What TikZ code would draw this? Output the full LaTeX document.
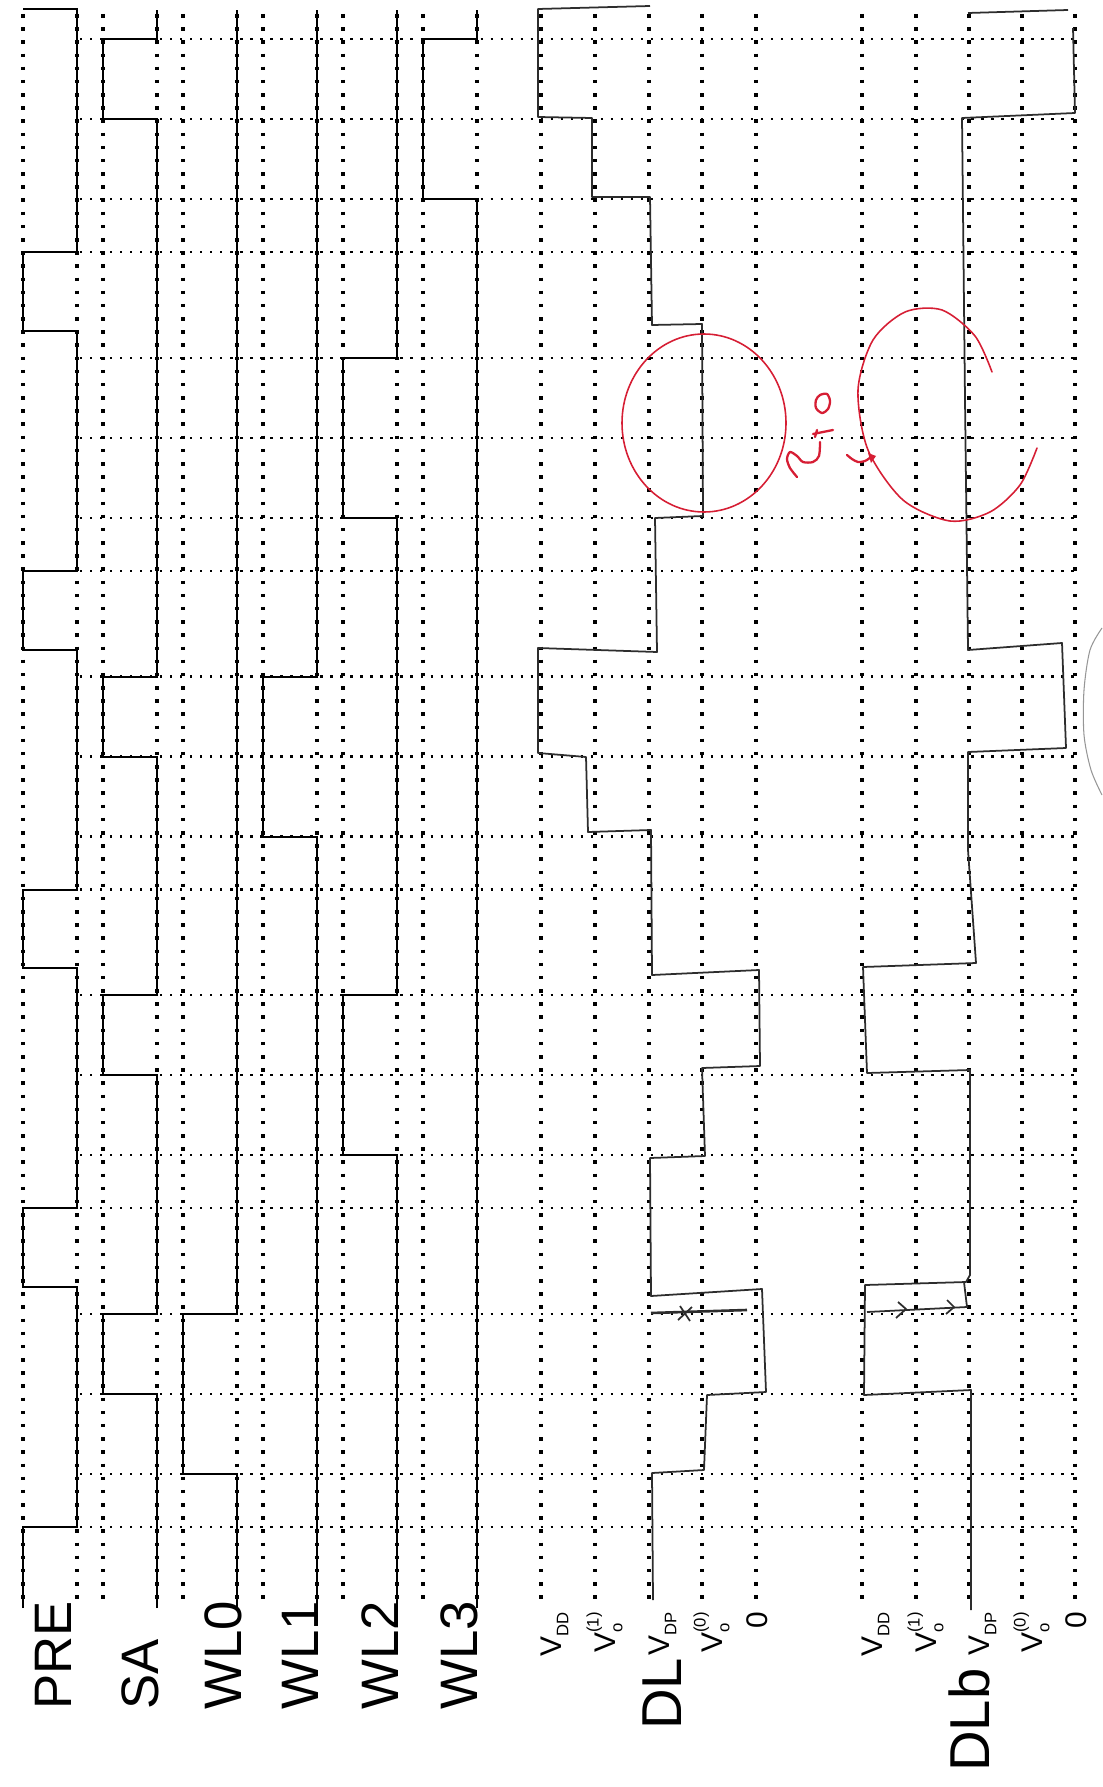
\documentclass[tikz,border=0pt]{standalone}
\usepackage{fontspec}
\setmainfont{Liberation Sans}
\usetikzlibrary{positioning}
\definecolor{lapiz}{RGB}{45,45,45}
\definecolor{rojo}{RGB}{214,30,52}
\definecolor{grafito}{RGB}{150,150,150}
\newcommand{\vsub}[1]{\raisebox{-0.25em}{\fontsize{9.5}{10}\selectfont #1}}
\newcommand{\vsup}[1]{\raisebox{0.55em}{\fontsize{9.5}{10}\selectfont #1}}

\begin{document}
\begin{tikzpicture}[x=0.02cm, y=-0.02cm,
    nivel/.style={line width=2pt, dash pattern=on 2pt off 5.5pt},
    tiempo/.style={line width=1.3pt, dash pattern=on 1.3pt off 4.4pt},
    senal/.style={line width=1.6pt, line join=miter},
    trazo/.style={line width=1pt, lapiz, line join=round},
    nombre/.style={rotate=90, inner sep=0pt, anchor=base west, font=\fontsize{30}{32}\selectfont},
    bus/.style={rotate=90, inner sep=0pt, anchor=base west, font=\fontsize{32}{34}\selectfont},
    voltaje/.style={rotate=90, inner sep=0pt, anchor=base east, font=\fontsize{17}{18}\selectfont},
    tinta/.style={rojo, line width=0.9pt, line cap=round, line join=round}]
    \useasboundingbox (0,0) rectangle (1102,1787);

    % Rejilla de tiempo
    \foreach \c in {0,...,4}
        \foreach \d in {0,53,133,213}
            \draw[tiempo] (80,{1527-318.75*\c-\d}) -- (1077,{1527-318.75*\c-\d});

    % Niveles de cada senal
    \foreach \x in {23,77,103,157,183,237,263,317,343,397,423,477,541,595,649,702,756,862,916,969,1022,1075}
        \draw[nivel] (\x,14) -- (\x,1606);

    % Etiquetas
    \node[nombre] (pre) at (71,1710) {PRE};
    \node[nombre] (sa) at (158,1710) {SA};
    \node[nombre] (wl0) at (241,1710) {WL0};
    \node[nombre] (wl1) at (318,1710) {WL1};
    \node[nombre] (wl2) at (398,1710) {WL2};
    \node[nombre] (wl3) at (477,1710) {WL3};
    \node[bus] (dl) at (681,1730) {DL};
    \node[bus] (dlb) at (989,1772) {DLb};

    \node[voltaje] (vdd) at (561,1612) {V\vsub{DD}};
    \node[voltaje] (vo1) at (615,1612) {V\rlap{\vsub{o}}\vsup{(1)}};
    \node[voltaje] (vdp) at (669,1612) {V\vsub{DP}};
    \node[voltaje] (vo0) at (722,1612) {V\rlap{\vsub{o}}\vsup{(0)}};
    \node[voltaje] (cero) at (767,1612) {0};
    \node[voltaje] (vddb) at (882,1612) {V\vsub{DD}};
    \node[voltaje] (vo1b) at (936,1612) {V\rlap{\vsub{o}}\vsup{(1)}};
    \node[voltaje] (vdpb) at (989,1612) {V\vsub{DP}};
    \node[voltaje] (vo0b) at (1042,1612) {V\rlap{\vsub{o}}\vsup{(0)}};
    \node[voltaje] (cerob) at (1086,1612) {0};

    % Senales digitales
    \draw[senal] (23,1608) -- (23,1527) -- (77,1527) -- (77,1287) -- (23,1287) -- (23,1208) -- (77,1208)
        -- (77,968) -- (23,968) -- (23,890) -- (77,890) -- (77,650) -- (23,650) -- (23,571) -- (77,571)
        -- (77,331) -- (23,331) -- (23,252) -- (77,252) -- (77,9) -- (23,9);
    \draw[senal] (157,1608) -- (157,1394) -- (103,1394) -- (103,1314) -- (157,1314) -- (157,1075)
        -- (103,1075) -- (103,995) -- (157,995) -- (157,757) -- (103,757) -- (103,677) -- (157,677)
        -- (157,119) -- (103,119) -- (103,39) -- (157,39) -- (157,10);
    \draw[senal] (237,1608) -- (237,1474) -- (183,1474) -- (183,1314) -- (237,1314) -- (237,10);
    \draw[senal] (317,1608) -- (317,837) -- (263,837) -- (263,677) -- (317,677) -- (317,10);
    \draw[senal] (397,1608) -- (397,1155) -- (343,1155) -- (343,995) -- (397,995) -- (397,518)
        -- (343,518) -- (343,358) -- (397,358) -- (397,10);
    \draw[senal] (477,1608) -- (477,199) -- (423,199) -- (423,39) -- (477,39) -- (477,10);

    % DL a mano
    \draw[trazo] (653,1600) -- (652,1473) -- (704,1470) -- (707,1395) -- (766,1392) -- (762,1289)
        -- (651,1296) -- (650,1158) -- (705,1156) -- (702,1068) -- (760,1066) -- (759,970)
        -- (652,975) -- (651,830) -- (588,832) -- (586,757) -- (538,753) -- (538,648) -- (657,652)
        -- (655,518) -- (703,516) -- (702,324) -- (652,325) -- (650,197) -- (592,197) -- (592,118)
        -- (538,117) -- (538,9) -- (650,6);
    \draw[trazo, line width=1.5pt] (651,1313) -- (747,1310);
    \draw[trazo] (678,1320) -- (692,1307) (680,1306) -- (690,1321);

    % DLb a mano
    \draw[trazo] (971,1610) -- (971,1390) -- (864,1395) -- (865,1285) -- (966,1282) -- (970,1275)
        -- (970,1070) -- (867,1073) -- (863,967) -- (976,963) -- (968,850) -- (968,752) -- (1066,748)
        -- (1062,643) -- (968,650) -- (965,400) -- (962,118) -- (1075,113) -- (1073,28);
    \draw[trazo] (968,13) -- (1068,10);
    \draw[trazo] (867,1312) -- (967,1307) -- (964,1282);
    \draw[trazo] (896,1318) -- (906,1309) -- (898,1302) (946,1314) -- (954,1307) -- (947,1300);

    % Correccion en rojo
    \draw[tinta] (704,423) ellipse[x radius=82, y radius=89];
    \draw[tinta] plot[smooth] coordinates {(992,372) (975,336) (942,310) (905,312)
        (873,340) (858,390) (868,450) (903,500) (950,521) (990,512) (1020,485) (1037,448)};
    \draw[tinta, line width=1.3pt] plot[smooth cycle] coordinates {(820,395) (827,394) (830,401)
        (828,409) (822,413) (816,408) (816,400)};
    \draw[tinta, line width=1.3pt] (813,434) -- (833,430) (817,430) -- (815,437);
    \draw[tinta, line width=1.3pt] plot[smooth] coordinates {(820,442) (819,456) (813,462) (803,462)
        (797,456) (790,452) (787,459) (790,468) (797,477)};
    \draw[tinta, line width=1.3pt] plot[smooth] coordinates {(847,455) (852,459) (858,462) (865,461) (871,457)};
    \fill[rojo] (868,453) -- (876,456) -- (871,463) -- cycle;

    % Lapiz al borde
    \draw[grafito, line width=0.6pt] plot[smooth] coordinates {(1102,628) (1090,650) (1084,690)
        (1084,735) (1091,770) (1102,795)};
\end{tikzpicture}
\end{document}
